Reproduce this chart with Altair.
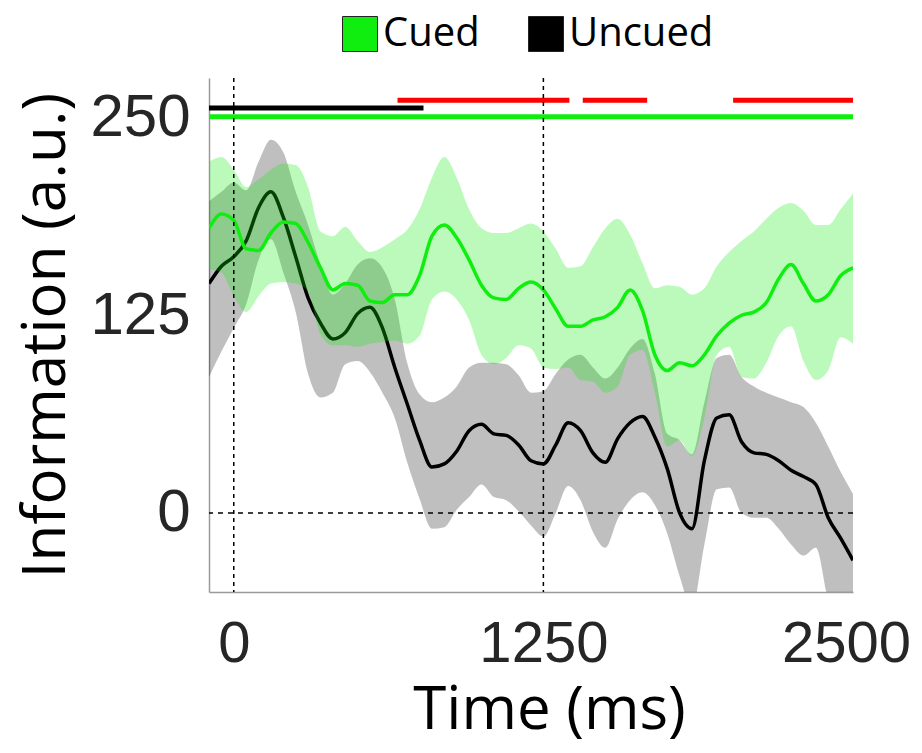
import altair as alt
import pandas as pd

# ---------------- data ----------------
time_ms = [-100, -50, 0, 50, 100, 150, 200, 250, 300, 350,
           400, 450, 500, 550, 600, 650, 700, 750, 800, 850,
           900, 950, 1000, 1050, 1100, 1150, 1200, 1250, 1300, 1350,
           1400, 1450, 1500, 1550, 1600, 1650, 1700, 1750, 1800, 1850,
           1900, 1950, 2000, 2050, 2100, 2150, 2200, 2250, 2300, 2350,
           2400, 2450, 2500]

cued_mean = [180, 189, 185, 167, 166, 177, 184, 183, 171, 155,
             141, 145, 144, 134, 133, 138, 138, 150, 175, 182,
             174, 160, 144, 136, 135, 142, 146, 141, 129, 118,
             118, 122, 124, 130, 141, 128, 100, 90, 95, 93,
             100, 112, 120, 125, 127, 133, 148, 157, 145, 134,
             138, 150, 155]
cued_upper = [222, 225, 217, 206, 211, 217, 221, 220, 206, 178,
              175, 181, 172, 165, 168, 173, 179, 192, 212, 225,
              212, 192, 180, 177, 177, 180, 183, 178, 167, 155,
              156, 168, 180, 186, 176, 158, 142, 144, 143, 138,
              142, 156, 165, 172, 178, 186, 193, 196, 191, 182,
              182, 192, 202]
cued_lower = [154, 152, 137, 127, 137, 145, 146, 145, 140, 113,
              106, 106, 105, 107, 108, 109, 107, 112, 135, 140,
              135, 122, 100, 94, 98, 106, 104, 92, 91, 92,
              84, 83, 76, 80, 100, 103, 76, 42, 46, 36,
              60, 100, 105, 86, 85, 95, 112, 118, 96, 84,
              90, 111, 107]

uncued_mean = [145, 156, 162, 172, 193, 203, 187, 162, 136, 120,
               110, 114, 126, 130, 117, 92, 69, 46, 29, 31,
               39, 52, 56, 50, 49, 43, 33, 31, 43, 57,
               52, 38, 32, 47, 57, 61, 48, 28, 0, -10,
               33, 60, 62, 45, 38, 37, 33, 27, 23, 18,
               -3, -16, -30]
uncued_upper = [197, 203, 209, 204, 222, 236, 228, 203, 182, 157,
                138, 145, 157, 161, 155, 135, 95, 75, 70, 73,
                80, 92, 95, 95, 94, 87, 76, 77, 88, 97,
                100, 92, 85, 92, 104, 110, 88, 50, 46, 37,
                70, 98, 100, 86, 80, 76, 73, 70, 67, 57,
                42, 26, 12]
uncued_lower = [86, 102, 117, 132, 160, 173, 152, 127, 88, 73,
                76, 94, 96, 89, 76, 60, 32, 9, -10, -9,
                2, 10, 18, 10, 8, 1, -8, -15, 0, 17,
                8, -12, -22, -4, 8, 13, 5, -13, -40, -60,
                -20, 15, 16, 0, -3, -3, -10, -20, -27, -22,
                -55, -75, -85]

# significance bars
sig_start = [-100, -100, 661, 1409, 2016]
sig_end = [766, 2500, 1355, 1669, 2500]
sig_level = [256, 250.5, 261, 261, 261]
sig_color = ["#000000", "#10EE10", "#FF0000", "#FF0000", "#FF0000"]

vline_x = [0, 1250]
hline_y = [0]

conditions = ["Cued", "Uncued"]
GREEN = "#10EE10"

# ---------------- frames ----------------
df_cued = pd.DataFrame({"t": time_ms, "m": cued_mean, "lo": cued_lower,
                        "hi": cued_upper, "cond": "Cued"})
df_unc = pd.DataFrame({"t": time_ms, "m": uncued_mean, "lo": uncued_lower,
                       "hi": uncued_upper, "cond": "Uncued"})
df_sig = pd.DataFrame({"s": sig_start, "e": sig_end, "y": sig_level, "c": sig_color})
df_v = pd.DataFrame({"x": vline_x})
df_h = pd.DataFrame({"y": hline_y})

xs = alt.Scale(domain=[-100, 2500], nice=False, zero=False)
ys = alt.Scale(domain=[-50, 275], nice=False, zero=False)
cs = alt.Scale(domain=conditions, range=[GREEN, "#000000"])

xax = alt.Axis(values=[0, 1250, 2500], format="d", title="Time (ms)", labelPadding=23,
               labelFontSize=58, labelFlush=False, labelOverlap=False, labelLimit=0,
               labelOffset=alt.ExprRef(expr="datum.value == 2500 ? -7 : 0"),
               titleX=340, titleY=136, titleBaseline="alphabetic",
               titleAlign="center", titleLimit=1000)
yax = alt.Axis(values=[0, 125, 250], format="d", title="Information (a.u.)", labelPadding=19,
               labelFlush=False, labelOverlap=False, labelLimit=0,
               titleX=-163, titleY=257, titleAngle=270, titleBaseline="middle",
               titleAlign="center", titleLimit=1000)

leg = alt.Legend(title=None, orient="none", legendX=131, legendY=-64,
                 direction="horizontal", symbolType="square", symbolSize=1225,
                 symbolOpacity=1, symbolStrokeColor="#222222", symbolStrokeWidth=1,
                 labelFont="Open Sans", labelFontSize=40, labelColor="#000000",
                 labelLimit=0, labelOffset=3, columnPadding=46)

X = alt.X("t:Q", scale=xs, axis=xax)

band_unc = alt.Chart(df_unc).mark_area(opacity=0.25, interpolate="monotone", clip=True).encode(
    x=X,
    y=alt.Y("lo:Q", scale=ys, axis=yax),
    y2="hi:Q",
    color=alt.Color("cond:N", scale=cs, legend=leg),
)
line_unc = alt.Chart(df_unc).mark_line(color="#000000", strokeWidth=3.5,
                                        interpolate="monotone", clip=True).encode(
    x=X, y=alt.Y("m:Q", scale=ys, axis=yax))
band_cued = alt.Chart(df_cued).mark_area(opacity=0.28, interpolate="monotone", clip=True).encode(
    x=X,
    y=alt.Y("lo:Q", scale=ys, axis=yax),
    y2="hi:Q",
    color=alt.Color("cond:N", scale=cs, legend=leg),
)
line_cued = alt.Chart(df_cued).mark_line(color=GREEN, strokeWidth=3.5,
                                          interpolate="monotone", clip=True).encode(
    x=X, y=alt.Y("m:Q", scale=ys, axis=yax))

bars = alt.Chart(df_sig).mark_rule(strokeWidth=5, clip=True).encode(
    x=alt.X("s:Q", scale=xs, axis=xax), x2="e:Q",
    y=alt.Y("y:Q", scale=ys, axis=yax),
    color=alt.Color("c:N", scale=None),
)

vrules = alt.Chart(df_v).mark_rule(color="#000000", strokeWidth=1.5, strokeDash=[4, 4]).encode(
    x=alt.X("x:Q", scale=xs, axis=xax))
hrule = alt.Chart(df_h).mark_rule(color="#000000", strokeWidth=1.5, strokeDash=[5, 5]).encode(
    y=alt.Y("y:Q", scale=ys, axis=yax))

chart = alt.layer(band_unc, line_unc, band_cued, line_cued, bars, vrules, hrule).properties(
    width=644, height=514,
    autosize=alt.AutoSizeParams(type="none"),
    padding={"left": 201, "top": 70, "right": 61, "bottom": 153},
).configure_view(stroke=None).configure_axis(
    grid=False, ticks=False,
    domainColor="#9a9a9a", domainWidth=1.5,
    labelFont="Liberation Sans", labelFontSize=60, labelColor="#262626",
    titleFont="Open Sans", titleFontSize=60, titleFontWeight="normal", titleColor="#000000",
)

chart.save("out.html", embed_options={"renderer": "svg", "actions": False})
